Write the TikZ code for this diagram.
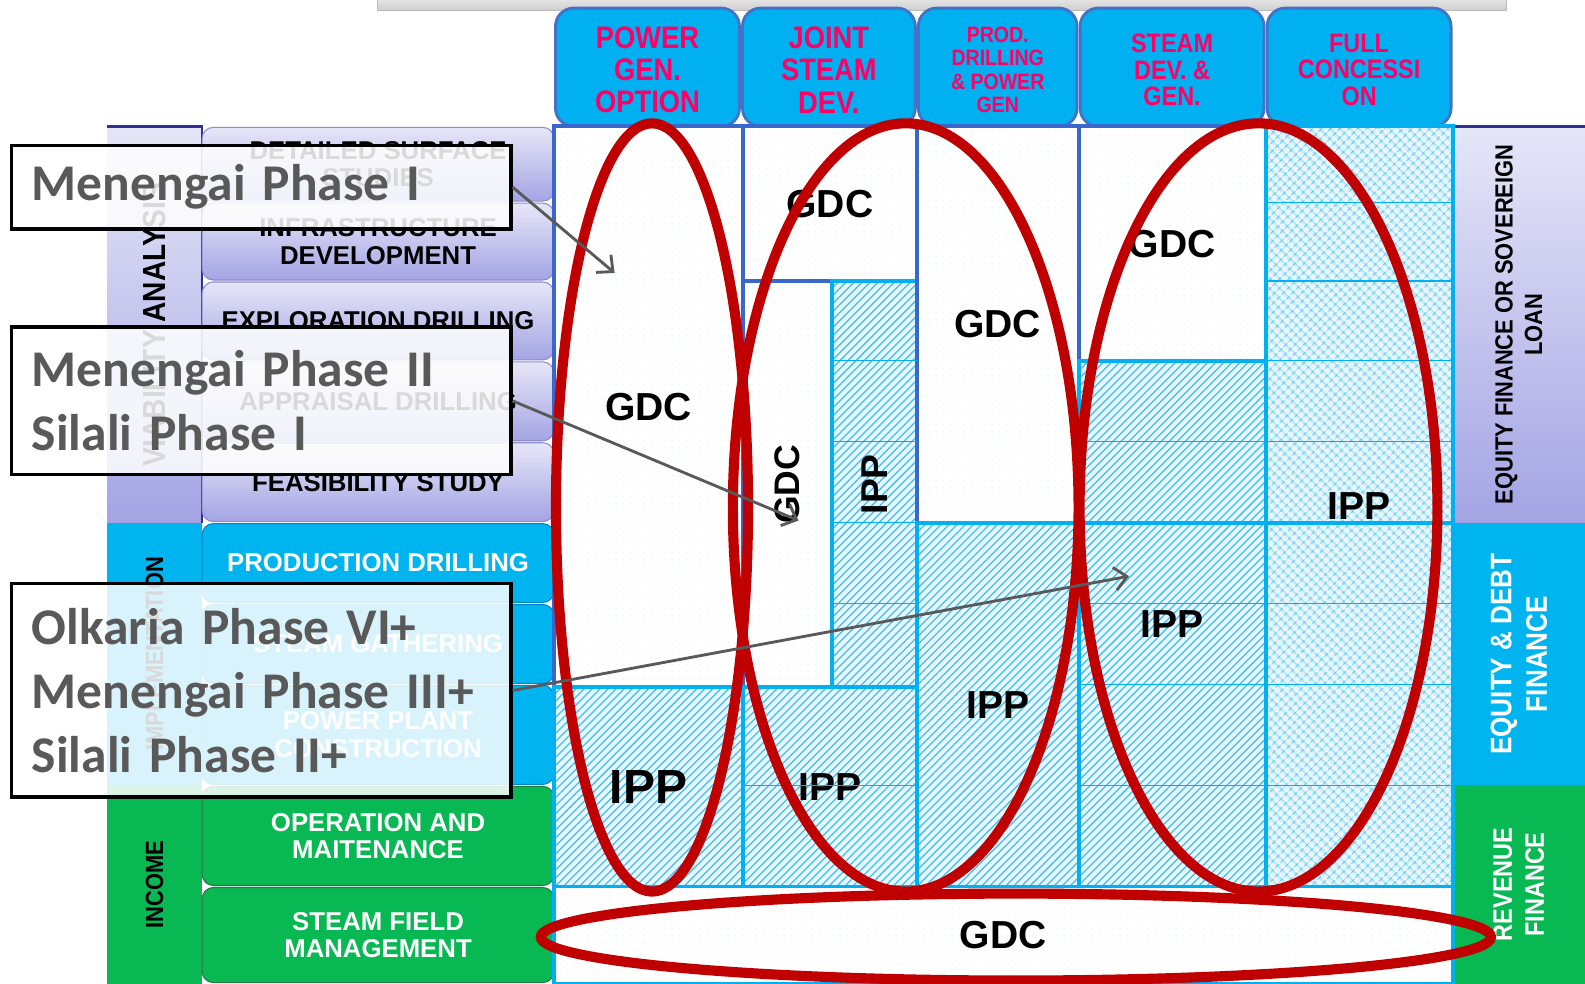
\documentclass[tikz,border=0pt]{standalone}
\usepackage{fontspec}
\setmainfont{Liberation Sans}
\newfontfamily\calloutFont{Carlito}
\newfontfamily\narrowFont[FakeStretch=0.88]{Liberation Sans}
\usepackage{tikz}
\usetikzlibrary{patterns.meta}
\usetikzlibrary{arrows.meta}
\definecolor{gridBlue}{RGB}{58,103,204}
\definecolor{gridCyan}{RGB}{0,176,240}
\definecolor{hatchCyan}{RGB}{60,190,240}
\definecolor{hatchBack}{RGB}{232,247,253}
\definecolor{dotColor}{RGB}{185,228,240}
\definecolor{headerPink}{RGB}{255,0,102}
\definecolor{headerEdge}{RGB}{68,114,196}
\definecolor{lavenderTop}{RGB}{230,230,248}
\definecolor{lavenderBottom}{RGB}{164,164,228}
\definecolor{lavenderEdge}{RGB}{140,140,210}
\definecolor{navyEdge}{RGB}{46,49,146}
\definecolor{stageCyan}{RGB}{0,180,240}
\definecolor{stageCyanEdge}{RGB}{0,135,195}
\definecolor{stageGreen}{RGB}{8,184,82}
\definecolor{stageGreenEdge}{RGB}{40,120,70}
\definecolor{ovalRed}{RGB}{192,0,0}
\definecolor{calloutGray}{RGB}{89,89,89}
\tikzstyle{chart} = [x = 0.02cm, y = -0.02cm]
\tikzstyle{topBarStyle} = [top color=gray!12, bottom color=gray!38, draw=gray!55, line width=.6pt]
\tikzstyle{headerStyle} = [fill=gridCyan, draw=headerEdge, line width=1.6pt, rounded corners=.36cm]
\tikzstyle{headerText} = [midway, yshift=-1.5pt, align=center, text=headerPink]
\tikzstyle{lavenderStage} = [top color=lavenderTop, bottom color=lavenderBottom, draw=lavenderEdge, line width=.6pt, rounded corners=.22cm, text=black]
\tikzstyle{cyanStage} = [fill=stageCyan, draw=stageCyanEdge, line width=.6pt, rounded corners=.22cm, text=white]
\tikzstyle{greenStage} = [fill=stageGreen, draw=stageGreenEdge, line width=.6pt, rounded corners=.22cm, text=white]
\tikzstyle{stageText} = [midway, align=center, font=\bfseries\fontsize{14.5}{15.5}\selectfont]
\tikzstyle{lavenderSide} = [top color=lavenderTop, bottom color=lavenderBottom, text=black]
\tikzstyle{cyanSide} = [fill=stageCyan, text=black]
\tikzstyle{greenSide} = [fill=stageGreen, text=black]
\tikzstyle{sideText} = [midway, rotate=90, align=center]
\tikzstyle{gdcCell} = [preaction={fill=white}, pattern={Dots[distance=4pt, radius=.3pt]}, pattern color=dotColor, draw=gridBlue, line width=2.2pt]
\tikzstyle{gdcBottomCell} = [gdcCell, draw=gridCyan]
\tikzstyle{ippCell} = [preaction={fill=hatchBack}, pattern={Lines[angle=45, distance=3.2pt, line width=.7pt]}, pattern color=hatchCyan, draw=gridCyan, line width=2.2pt]
\tikzstyle{ippFullCell} = [preaction={fill=hatchBack}, pattern={Hatch[angle=45, distance=4pt, line width=.5pt]}, pattern color=hatchCyan, draw=gridCyan, line width=2.2pt]
\tikzstyle{cellText} = [midway, font=\bfseries\fontsize{22}{24}\selectfont]
\tikzstyle{rowLineStyle} = [draw=gridCyan, line width=.6pt]
\tikzstyle{ovalStyle} = [draw=ovalRed, line width=5.7pt]
\tikzstyle{calloutBox} = [draw=black, line width=1.8pt, fill=white, fill opacity=.85, text opacity=1, text=calloutGray, anchor=north west, inner xsep=.4cm, inner ysep=2pt, text width=9.08cm, align=left, font=\calloutFont\bfseries\fontsize{29}{36}\selectfont]
\tikzstyle{calloutArrow} = [draw=calloutGray, line width=1.6pt, -{Straight Barb[length=7pt, width=13pt, line width=1.6pt]}]
\newcommand{\headerBox}[6]{\path [headerStyle] (#1 + 1.5, 8) rectangle (#2 - 1.5, 125) node [headerText, font=\narrowFont\bfseries\fontsize{#3}{#4}\selectfont] (#5) {#6};}
\newcommand{\sideBox}[9]{\path [#1] (#2, #3) rectangle (#4, #5) node [sideText, font=\narrowFont\bfseries\fontsize{#6}{#7}\selectfont] (#8) {#9};}
\newcommand{\stageBox}[7]{\path [#1] (#2, #3 + 1) rectangle (#4, #5 - 1) node [stageText] (#6) {#7};}
\newcommand{\cellBox}[8]{\path [#1] (#2, #3) rectangle (#4, #5) node [cellText, #6] (#7) {#8};}
\newcommand{\rowLine}[3]{\draw [rowLineStyle] (#1, #3) -- (#2, #3);}
\newcommand{\thickRowLine}[3]{\draw [rowLineStyle, line width=2.2pt] (#1, #3) -- (#2, #3);}
\begin{document}
\begin{tikzpicture}[chart]
  \useasboundingbox (0, 0) rectangle (1568, 973);
  \path [topBarStyle] (373, -6) rectangle (1490, 10);

  % column headers
  \headerBox{548}{733}{17.5}{18.2}{headPower}{POWER\\GEN.\\OPTION}
  \headerBox{733}{907}{17.5}{18.2}{headJoint}{JOINT\\STEAM\\DEV.}
  \headerBox{907}{1067}{12.5}{13}{headProd}{PROD.\\DRILLING\\\& POWER\\GEN}
  \headerBox{1067}{1252}{15}{15}{headSteam}{STEAM\\DEV. \&\\GEN.}
  \headerBox{1252}{1437}{15}{15}{headFull}{FULL\\CONCESSI\\ON}

  % phases on the left
  \sideBox{lavenderSide}{106}{125}{200}{517}{18}{20}{sideViability}{VIABILITY ANALYSIS}
  \sideBox{cyanSide}{106}{517}{200}{777}{14}{16}{sideImplementation}{IMPLEMENTATION}
  \sideBox{greenSide}{106}{777}{200}{973}{14}{16}{sideIncome}{INCOME}
  \draw [navyEdge, line width=1.4pt] (106, 125) -- (200, 125) -- (200, 517);

  \stageBox{lavenderStage}{200}{125}{548}{200}{stageSurface}{DETAILED SURFACE\\STUDIES}
  \stageBox{lavenderStage}{200}{200}{548}{278}{stageInfra}{INFRASTRUCTURE\\DEVELOPMENT}
  \stageBox{lavenderStage}{200}{278}{548}{357}{stageExploration}{EXPLORATION DRILLING}
  \stageBox{lavenderStage}{200}{357}{548}{437}{stageAppraisal}{APPRAISAL DRILLING}
  \stageBox{lavenderStage}{200}{437}{548}{517}{stageFeasibility}{FEASIBILITY STUDY}
  \stageBox{cyanStage}{200}{517}{548}{597}{stageProduction}{PRODUCTION DRILLING}
  \stageBox{cyanStage}{200}{597}{548}{677}{stageGathering}{STEAM GATHERING}
  \stageBox{cyanStage}{200}{677}{548}{777}{stagePlant}{POWER PLANT\\CONSTRUCTION}
  \stageBox{greenStage}{200}{777}{548}{877}{stageOperation}{OPERATION AND\\MAITENANCE}
  \stageBox{greenStage}{200}{877}{548}{973}{stageField}{STEAM FIELD\\MANAGEMENT}

  % finance on the right
  \sideBox{lavenderSide}{1437}{125}{1568}{517}{14}{16.5}{sideEquity}{EQUITY FINANCE OR SOVEREIGN\\LOAN}
  \sideBox{cyanSide, text=white}{1437}{517}{1568}{777}{16.7}{20}{sideDebt}{EQUITY \& DEBT\\FINANCE}
  \sideBox{greenSide, text=white}{1437}{777}{1568}{973}{15}{18}{sideRevenue}{REVENUE\\FINANCE}
  \draw [navyEdge, line width=1.4pt] (1437, 125) -- (1568, 125);

  % grid cells
  \cellBox{gdcCell}{548}{125}{735}{680}{}{gdcPower}{GDC}
  \cellBox{ippCell}{548}{680}{735}{877}{font=\bfseries\fontsize{27}{29}\selectfont}{ippPower}{IPP}
  \cellBox{gdcCell}{735}{125}{907}{278}{}{gdcJointTop}{GDC}
  \cellBox{gdcCell}{735}{278}{823}{680}{rotate=90, font=\bfseries\fontsize{20}{22}\selectfont}{gdcJointSide}{GDC}
  \cellBox{ippCell}{823}{278}{907}{680}{rotate=90, font=\bfseries\fontsize{21}{23}\selectfont}{ippJointSide}{IPP}
  \cellBox{ippCell}{735}{680}{907}{877}{}{ippJoint}{IPP}
  \cellBox{gdcCell}{907}{125}{1067}{517}{}{gdcProd}{GDC}
  \cellBox{ippCell}{907}{517}{1067}{877}{}{ippProd}{IPP}
  \cellBox{gdcCell}{1067}{125}{1252}{357}{}{gdcSteam}{GDC}
  \cellBox{ippCell}{1067}{357}{1252}{877}{}{ippSteam}{IPP}
  \cellBox{ippFullCell}{1252}{125}{1437}{877}{}{ippFull}{IPP}
  \cellBox{gdcBottomCell}{548}{877}{1437}{973}{}{gdcField}{GDC}
  \foreach \rowY in {357, 437, 517, 597} {\rowLine{823}{907}{\rowY}}
  \rowLine{735}{907}{777}
  \foreach \rowY in {437, 597, 677, 777} {\rowLine{1067}{1252}{\rowY}}
  \foreach \rowY in {200, 278, 357, 437, 597, 677, 777} {\rowLine{1252}{1437}{\rowY}}
  \thickRowLine{1067}{1437}{517}

  % ovals
  \draw [ovalStyle] (645, 502) ellipse [x radius = 95, y radius = 380];
  \draw [ovalStyle] (896, 502) ellipse [x radius = 171, y radius = 380];
  \draw [ovalStyle] (1245, 502) ellipse [x radius = 177, y radius = 380];
  \draw [ovalStyle] (1005, 927) ellipse [x radius = 470, y radius = 43];

  % callouts
  \node [calloutBox, minimum height = 1.66cm] (menengaiOne) at (10, 142) {Menengai Phase I};
  \node [calloutBox, minimum height = 2.92cm] (menengaiTwo) at (10, 322) {Menengai Phase II\\Silali Phase I};
  \node [calloutBox, minimum height = 4.22cm] (olkariaSix) at (10, 576) {Olkaria Phase VI+\\Menengai Phase III+\\Silali Phase II+};
  \coordinate (tipPower) at (608, 270);
  \coordinate (tipJoint) at (790, 515);
  \coordinate (tipSteam) at (1117, 570);
  \draw [calloutArrow] (menengaiOne.east) -- (tipPower);
  \draw [calloutArrow] (menengaiTwo.east) -- (tipJoint);
  \draw [calloutArrow] (olkariaSix.east) -- (tipSteam);
\end{tikzpicture}
\end{document}
